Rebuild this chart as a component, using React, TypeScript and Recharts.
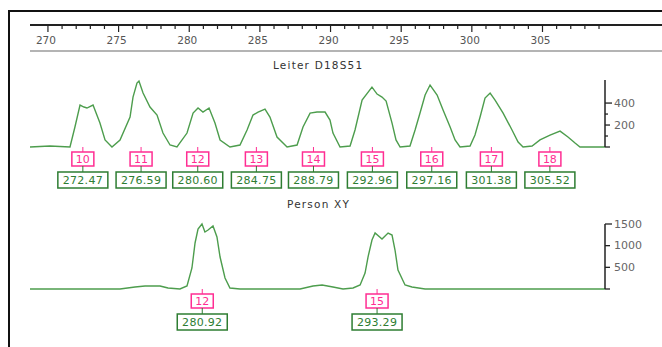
import React from "react";
import { ComposedChart, LineChart, Line, Scatter, XAxis, YAxis } from "recharts";

// ---------------------------------------------------------------------------
// Data (fragment size in bp, signal in rfu)
// ---------------------------------------------------------------------------

const rulerMajor = [270, 275, 280, 285, 290, 295, 300, 305];
const rulerTicks = Array.from({ length: 40 }, (_, i) => 270 + i);

const ladderTitle = "Leiter D18S51";
const ladderAlleles = ["10", "11", "12", "13", "14", "15", "16", "17", "18"];
const ladderCalls = [272.47, 276.59, 280.6, 284.75, 288.79, 292.96, 297.16, 301.38, 305.52];
const ladderTicks = [0, 100, 200, 300, 400];

// [size, rfu]
const ladderTrace: [number, number][] = [
  [268.73, 0], [270.14, 9], [271.56, 0], [271.91, 182], [272.27, 382], [272.55, 364],
  [272.76, 355], [273.19, 382], [273.68, 218], [274.04, 64], [274.53, 0], [275.1, 64],
  [275.81, 273], [276.02, 455], [276.3, 582], [276.44, 600], [276.73, 491], [277.22, 364],
  [277.72, 291], [278.14, 127], [278.64, 18], [279.13, 0], [279.84, 127], [280.27, 309],
  [280.62, 355], [280.97, 318], [281.4, 355], [281.82, 218], [282.18, 64], [282.88, 0],
  [283.59, 18], [284.09, 155], [284.51, 291], [284.87, 318], [285.36, 345], [285.71, 273],
  [286.21, 91], [286.92, 0], [287.63, 18], [288.05, 182], [288.55, 309], [289.04, 318],
  [289.61, 318], [289.96, 245], [290.17, 127], [290.67, 0], [291.38, 9], [291.73, 155],
  [292.23, 427], [292.93, 545], [293.29, 482], [293.64, 455], [293.93, 418], [294.35, 218],
  [294.63, 64], [294.92, 0], [295.62, 9], [295.98, 155], [296.33, 309], [296.69, 473],
  [297.04, 564], [297.54, 473], [297.96, 336], [298.46, 182], [298.81, 64], [299.16, 0],
  [299.87, 9], [300.22, 109], [300.58, 273], [300.93, 445], [301.29, 491], [301.64, 427],
  [302.21, 309], [302.84, 155], [303.27, 45], [303.62, 0], [304.26, 9], [304.82, 64],
  [305.53, 109], [306.24, 145], [306.8, 91], [307.3, 36], [307.65, 0], [309.42, 0],
];

const sampleTitle = "Person XY";
const sampleAlleles = ["12", "15"];
const sampleCalls = [280.92, 293.29];
const sampleTicks = [0, 500, 1000, 1500];

const sampleTrace: [number, number][] = [
  [268.73, 0], [272.27, 0], [275.1, 0], [276.16, 46], [276.87, 69], [277.93, 69],
  [278.5, 23], [279.34, 0], [279.84, 69], [280.19, 485], [280.41, 1062], [280.62, 1385],
  [280.9, 1500], [281.11, 1316], [281.33, 1361], [281.68, 1454], [281.96, 1200], [282.18, 738],
  [282.53, 254], [282.88, 23], [283.59, 0], [287.84, 0], [288.76, 69], [289.4, 92],
  [290.17, 46], [290.88, 0], [291.59, 23], [292.09, 92], [292.44, 369], [292.65, 738],
  [292.93, 1131], [293.15, 1292], [293.64, 1154], [294.07, 1292], [294.35, 1246], [294.56, 900],
  [294.77, 438], [295.27, 92], [295.76, 46], [296.69, 0], [309.42, 0],
];

// ---------------------------------------------------------------------------
// Helpers
// ---------------------------------------------------------------------------

const W = 662;
const H = 347;
const X0 = 30;
const PX_PER_BP = 14.13;
const SIZE_MIN = 268.73;
const SIZE_MAX = 309.42;
const FONT = "'DejaVu Sans', Verdana, sans-serif";
const TRACE = "#4d9d4d";
const PINK = "#ff2e93";
const GREEN = "#2e7d32";

const toRows = (t: [number, number][]) => t.map(([size, rfu]) => ({ size, rfu }));
const toCalls = (sizes: number[], alleles: string[]) =>
  sizes.map((size, i) => ({ size, rfu: 0, allele: alleles[i] }));

function RulerTick({ x, y, payload }: any) {
  const v = payload.value as number;
  const major = rulerMajor.includes(v);
  return (
    <g>
      <line x1={x} x2={x} y1={y} y2={y + (major ? 7 : 4)} stroke="#222" strokeWidth={1.2} />
      {major && (
        <text x={x - 2} y={y + 15} textAnchor="middle" dominantBaseline="central"
          fontSize={10.5} fontFamily={FONT} fill="#555">
          {v}
        </text>
      )}
    </g>
  );
}

function makeYTick(labelled: number[], long: number) {
  return function YTick({ x, y, payload }: any) {
    const v = payload.value as number;
    const show = labelled.includes(v);
    const len = v === long ? 7 : show ? 5 : 3;
    return (
      <g>
        <line x1={x} x2={x + (v === 0 ? 5 : len)} y1={y} y2={y} stroke="#222" strokeWidth={1.3} />
        {show && (
          <text x={x + 9} y={y} dominantBaseline="central" fontSize={11}
            fontFamily={FONT} fill="#666">
            {v}
          </text>
        )}
      </g>
    );
  };
}

function AlleleCall({ cx, cy, payload }: any) {
  if (cx == null || cy == null) return null;
  return (
    <g fontFamily={FONT} fontSize={11}>
      <line x1={cx} x2={cx} y1={cy} y2={cy + 5} stroke={PINK} />
      <rect x={cx - 11} y={cy + 5} width={22} height={14} fill="#fff" stroke={PINK} strokeWidth={1.5} />
      <text x={cx} y={cy + 12.5} textAnchor="middle" dominantBaseline="central" fill={PINK}>
        {payload.allele}
      </text>
      <line x1={cx} x2={cx} y1={cy + 19} y2={cy + 25} stroke={GREEN} />
      <rect x={cx - 25} y={cy + 25} width={50} height={16} fill="#fff" stroke={GREEN} strokeWidth={1.5} />
      <text x={cx} y={cy + 33.5} textAnchor="middle" dominantBaseline="central" fill={GREEN}
        letterSpacing={0.3}>
        {payload.size.toFixed(2)}
      </text>
    </g>
  );
}

function Panel({ trace, calls, ticks, domainMax, top, bottom, labelled, long }: any) {
  const Tick = makeYTick(labelled, long);
  return (
    <div style={{ position: "absolute", left: 0, top: 0 }}>
      <ComposedChart width={W} height={H}
        margin={{ top, right: 0, bottom: H - bottom, left: X0 }}>
        <XAxis type="number" dataKey="size" domain={[SIZE_MIN, SIZE_MAX]} hide />
        <YAxis orientation="right" width={57} domain={[0, domainMax]} ticks={ticks}
          interval={0} tickSize={0} tickMargin={0} tickLine={false}
          axisLine={{ stroke: "#222", strokeWidth: 1.5 }} tick={<Tick />} />
        <Line data={trace} dataKey="rfu" type="linear" stroke={TRACE} strokeWidth={1.4}
          dot={false} isAnimationActive={false} />
        <Scatter data={calls} dataKey="rfu" shape={<AlleleCall />} isAnimationActive={false} />
      </ComposedChart>
    </div>
  );
}

// ---------------------------------------------------------------------------
// Component
// ---------------------------------------------------------------------------

export default function App() {
  const rulerMax = SIZE_MIN + (W - X0) / PX_PER_BP;
  const title = { position: "absolute" as const, fontFamily: FONT, fontSize: 10.5,
    color: "#333", lineHeight: "12px", whiteSpace: "nowrap" as const, letterSpacing: 1.2 };
  return (
    <div style={{ position: "absolute", left: 0, top: 0, width: W, height: H,
      background: "#fff", overflow: "hidden" }}>
      <div style={{ position: "absolute", left: 8, top: 10, width: W, height: H,
        borderTop: "2px solid #111", borderLeft: "2px solid #111" }} />

      <div style={{ position: "absolute", left: 0, top: 0 }}>
        <LineChart width={W} height={60} data={[{ size: 270, v: 0 }, { size: 309, v: 0 }]}
          margin={{ top: 5, right: 0, bottom: 0, left: X0 }}>
          <XAxis type="number" dataKey="size" domain={[SIZE_MIN, rulerMax]} ticks={rulerTicks}
            interval={0} height={35} tickSize={0} tickMargin={0}
            tickLine={false} axisLine={{ stroke: "#222", strokeWidth: 2 }}
            tick={<RulerTick />} />
          <YAxis hide />
          <Line dataKey="v" stroke="none" dot={false} isAnimationActive={false} />
        </LineChart>
      </div>
      <div style={{ position: "absolute", left: X0, top: 50, width: W - X0, height: 2,
        background: "#b4b4b4" }} />

      <div style={{ ...title, left: 273, top: 59 }}>{ladderTitle}</div>
      <Panel trace={toRows(ladderTrace)} calls={toCalls(ladderCalls, ladderAlleles)}
        ticks={ladderTicks} domainMax={610} top={80} bottom={147}
        labelled={[200, 400]} long={400} />

      <div style={{ ...title, left: 287, top: 198 }}>{sampleTitle}</div>
      <Panel trace={toRows(sampleTrace)} calls={toCalls(sampleCalls, sampleAlleles)}
        ticks={sampleTicks} domainMax={1500} top={224} bottom={289}
        labelled={[500, 1000, 1500]} long={1500} />
    </div>
  );
}
